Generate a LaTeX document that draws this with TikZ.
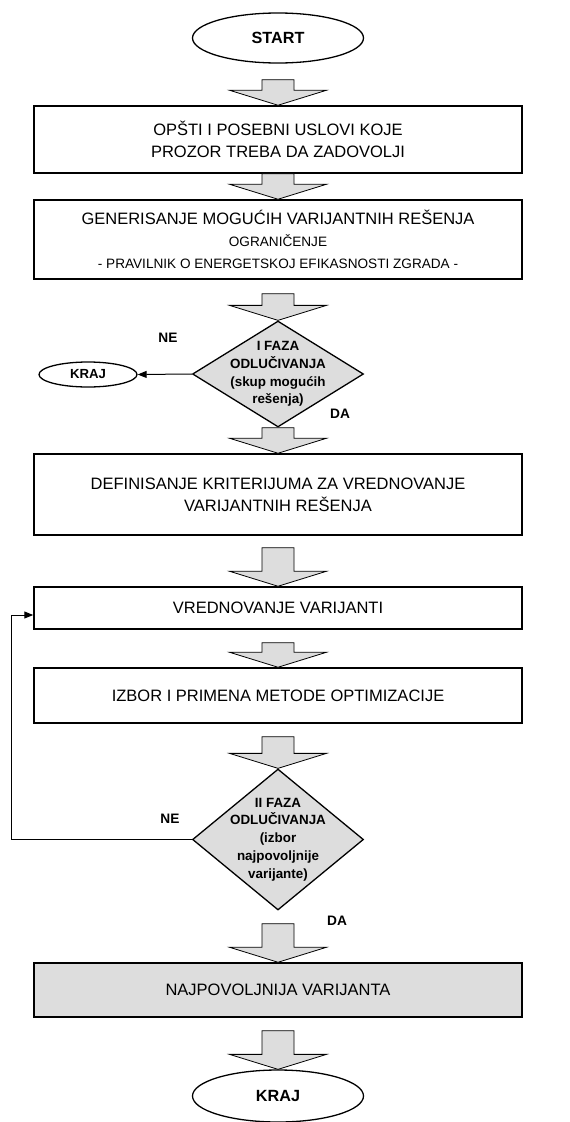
\documentclass[tikz,border=0pt]{standalone}
\usepackage{fontspec}
\setmainfont{Liberation Sans}
\usetikzlibrary{shapes.geometric,arrows.meta,calc}
\definecolor{boxgray}{HTML}{DDDDDD}
\newcommand{\smalltxt}{\fontsize{13.6}{19}\selectfont}
\begin{document}
\begin{tikzpicture}[x=1pt,y=-1pt,
  box/.style={draw, line width=1.5pt, minimum width=488pt, inner sep=0pt, align=center,
    font=\fontsize{16.5}{22}\selectfont},
  graybox/.style={box, fill=boxgray},
  terminal/.style={draw, ellipse, line width=1.3pt, inner sep=0pt,
    font=\bfseries\fontsize{16.2}{19}\selectfont},
  decision/.style={draw, diamond, line width=1.3pt, fill=boxgray, inner sep=0pt, minimum width=171pt},
  dectext/.style={align=center, inner sep=0pt, font=\bfseries\fontsize{13.4}{17.8}\selectfont},
  answer/.style={font=\bfseries\fontsize{13.7}{16}\selectfont},
  bigarrow/.style={draw, line width=0.8pt, fill=boxgray,
    to path={let \p1=(\tikztostart), \p2=(\tikztotarget) in
      (\x1-16pt,\y1) -- (\x1-16pt,\y2+15pt) -- (\x1-48.5pt,\y2+15pt) -- (\x2,\y2)
      -- (\x1+48.5pt,\y2+15pt) -- (\x1+16pt,\y2+15pt) -- (\x1+16pt,\y1) -- cycle}},
  arr/.style={draw, line width=1pt, -{Triangle[length=9pt,width=7pt]}}
]
\useasboundingbox (0,0) rectangle (570,1122);

% Boxes and decisions
\node[terminal, minimum width=171pt, minimum height=50pt] (start) at (278,38) {START};
\node[box, minimum height=67pt] (uslovi) at (278,139.5) {OPŠTI I POSEBNI USLOVI KOJE\\PROZOR TREBA DA ZADOVOLJI};
\node[box, minimum height=79pt] (generisanje) at (278,239.5) {GENERISANJE MOGUĆIH VARIJANTNIH REŠENJA\\
  {\smalltxt OGRANIČENJE}\\{\smalltxt - PRAVILNIK O ENERGETSKOJ EFIKASNOSTI ZGRADA -}};
\node[decision, minimum height=106pt] (faza1) at (278,374) {};
\node[dectext] (faza1txt) at (faza1) {I FAZA\\ODLUČIVANJA\\(skup mogućih\\rešenja)};
\node[terminal, font=\bfseries\fontsize{13.2}{16}\selectfont, minimum width=98pt, minimum height=25pt] (kraj1) at (88,374.5) {KRAJ};
\node[answer] (ne1) at (168,338) {NE};
\node[answer] (da1) at (340,414) {DA};
\node[box, minimum height=81pt] (kriterijumi) at (278,494.5) {DEFINISANJE KRITERIJUMA ZA VREDNOVANJE\\VARIJANTNIH REŠENJA};
\node[box, minimum height=42pt] (vrednovanje) at (278,608) {VREDNOVANJE VARIJANTI};
\node[box, minimum height=55pt] (metoda) at (278,695.5) {IZBOR I PRIMENA METODE OPTIMIZACIJE};
\node[decision, minimum height=141pt] (faza2) at (278,839.5) {};
\node[dectext] (faza2txt) at (faza2) {II FAZA\\ODLUČIVANJA\\(izbor\\najpovoljnije\\varijante)};
\node[answer] (ne2) at (170,819) {NE};
\node[answer] (da2) at (337,921) {DA};
\node[graybox, minimum height=54pt] (najpovoljnija) at (278,990) {NAJPOVOLJNIJA VARIJANTA};
\node[terminal, minimum width=171pt, minimum height=52pt] (kraj2) at (278,1096) {KRAJ};

% Block arrows
\draw[bigarrow] ([yshift=-16pt]start.south) to (uslovi.north);
\draw[bigarrow] (uslovi.south) to (generisanje.north);
\draw[bigarrow] ([yshift=-14pt]generisanje.south) to (faza1.north);
\draw[bigarrow] (faza1.south) to (kriterijumi.north);
\draw[bigarrow] ([yshift=-12pt]kriterijumi.south) to (vrednovanje.north);
\draw[bigarrow] ([yshift=-13pt]vrednovanje.south) to (metoda.north);
\draw[bigarrow] ([yshift=-13pt]metoda.south) to (faza2.north);
\draw[bigarrow] ([yshift=-13pt]faza2.south) to (najpovoljnija.north);
\draw[bigarrow] ([yshift=-13pt]najpovoljnija.south) to (kraj2.north);

% Side exits
\coordinate (povratak) at (11,615);
\draw[arr] (faza1.west) -- (kraj1.east);
\draw[arr] (faza2.west) -| (povratak) -- (povratak -| vrednovanje.west);
\end{tikzpicture}
\end{document}
